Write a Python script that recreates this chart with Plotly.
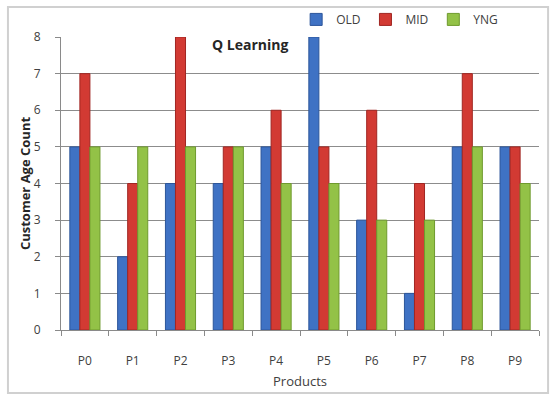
import plotly.graph_objects as go

# Customer age counts per product
products = ["P0", "P1", "P2", "P3", "P4", "P5", "P6", "P7", "P8", "P9"]
old = [5, 2, 4, 4, 5, 8, 3, 1, 5, 5]
mid = [7, 4, 8, 5, 6, 5, 6, 4, 7, 5]
yng = [5, 5, 5, 5, 4, 4, 3, 3, 5, 4]

series = [
    ("OLD", old, "#3f72c4", "#2c559a"),
    ("MID", mid, "#d23a33", "#a02622"),
    ("YNG", yng, "#93c247", "#6f9a2e"),
]

fig = go.Figure()
for name, vals, color, edge in series:
    fig.add_trace(go.Bar(
        x=products, y=vals, name=name,
        marker=dict(color=color, line=dict(color=edge, width=1)),
    ))

font_family = "Open Sans, Liberation Sans, DejaVu Sans, sans-serif"

fig.update_layout(
    width=550, height=396,
    margin=dict(l=61, r=11, t=37, b=66, autoexpand=False),
    paper_bgcolor="white", plot_bgcolor="white",
    barmode="group", bargap=0.37, bargroupgap=0.0,
    font=dict(family=font_family, size=12, color="#404040"),
    showlegend=True,
    legend=dict(
        orientation="h", x=0.925, xanchor="right", y=1.06, yanchor="middle",
        font=dict(size=12, color="#404040"), itemwidth=30,
        traceorder="normal", bgcolor="rgba(0,0,0,0)",
    ),
    xaxis=dict(
        automargin=False,
        showgrid=False, showline=True, linecolor="#8a8a8a", linewidth=1,
        ticks="outside", tickson="boundaries", ticklen=5, tickcolor="#8a8a8a",
        tickfont=dict(size=12, color="#404040"), ticklabelstandoff=20,
        title=dict(text="Products", font=dict(size=13, color="#404040"), standoff=8),
    ),
    yaxis=dict(
        automargin=False,
        range=[0, 8], dtick=1, showgrid=True, gridcolor="#8c8c8c", gridwidth=1,
        showline=True, linecolor="#8a8a8a", linewidth=1,
        ticks="outside", ticklen=5, tickcolor="#8a8a8a",
        tickfont=dict(size=12, color="#404040"), ticklabelstandoff=12,
        zeroline=False,
        title=dict(text="<b>Customer Age Count</b>", font=dict(size=13, color="#262626"), standoff=0),
    ),
    annotations=[dict(
        text="<b>Q Learning</b>", xref="paper", yref="paper",
        x=0.395, y=0.975, xanchor="center", yanchor="middle", showarrow=False,
        font=dict(size=14, color="#262626"),
    )],
    shapes=[dict(
        type="rect", xref="paper", yref="paper",
        x0=-0.111, x1=1.019, y0=-0.215, y1=1.102,
        line=dict(color="#d0d0d0", width=2), layer="below",
    )],
)

fig.write_html("out.html")
